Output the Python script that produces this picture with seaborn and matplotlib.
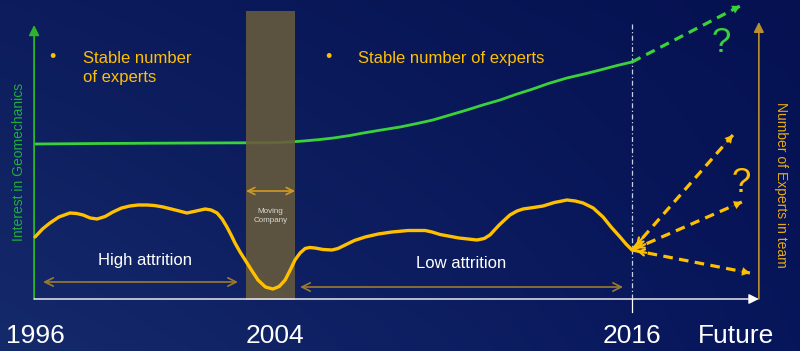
import numpy as np
import matplotlib
matplotlib.use("Agg")
import matplotlib.pyplot as plt
import seaborn as sns

plt.rcParams['font.family'] = ['Liberation Sans', 'DejaVu Sans']

# ---------------- data ----------------
# Interest in geomechanics (green curve)
interest_years = [1996.0, 1998.18, 2001.53, 2004.0, 2004.54, 2005.0, 2005.55, 2006.0,
                  2006.55, 2007.0, 2007.5, 2008.23, 2008.8, 2009.33, 2009.9, 2010.47,
                  2011.0, 2011.58, 2012.1, 2012.68, 2013.2, 2013.82, 2014.4, 2014.93,
                  2015.5, 2016.0]
interest = [155, 155.5, 156, 156.3, 157, 158, 159.5, 161, 163.5, 166, 168.5, 172, 175.5,
            179, 184, 189, 194, 199, 204.5, 210, 215.5, 221, 225, 229, 233.5, 237]

# Number of experts in team (yellow curve)
expert_years = [1996.00, 1996.25, 1996.50, 1996.80, 1997.17, 1997.40, 1997.61, 1997.85,
                1998.08, 1998.35, 1998.61, 1998.90, 1999.18, 1999.45, 1999.75, 2000.00,
                2000.29, 2000.70, 2001.09, 2001.40, 2001.70, 2001.90, 2002.10, 2002.27,
                2002.43, 2002.57, 2002.70, 2002.87, 2003.04, 2003.25, 2003.47, 2003.72,
                2003.97, 2004.18, 2004.38, 2004.55, 2004.71, 2004.88, 2005.05, 2005.20,
                2005.38, 2005.65, 2005.95, 2006.15, 2006.39, 2006.70, 2007.06, 2007.50,
                2007.96, 2008.50, 2009.07, 2009.30, 2009.57, 2010.20, 2010.81, 2011.05,
                2011.24, 2011.55, 2011.91, 2012.15, 2012.35, 2012.70, 2013.02, 2013.40,
                2013.82, 2014.10, 2014.36, 2014.70, 2015.03, 2015.30, 2015.60, 2015.80,
                2016.00]
experts = [62, 70, 76, 82, 86, 85.5, 84, 81,
           80, 82.5, 87, 91, 93, 94, 94, 93.5,
           92, 89, 86, 88, 90, 89, 86, 80,
           72, 64, 56, 47, 39, 29, 19, 12,
           10, 12.5, 19, 29, 39, 46, 50.5, 51.5,
           51, 49.5, 49, 50.5, 54, 58.5, 62, 65,
           67, 68.5, 68.5, 67, 64.5, 61, 59, 60.5,
           64, 74, 84, 88, 90, 91.5, 93, 96.5,
           99, 98, 96, 91, 82, 72, 62, 55,
           49]

# Future scenarios
interest_future_year = 2019.62
interest_future = 293
experts_future_years = [2019.38, 2019.68, 2019.95]
experts_future = [164, 97, 26]

# Periods
moving_period = [2003.07, 2004.71]
high_attrition = [1996.27, 2002.80]
low_attrition = [2004.88, 2015.70]

tick_years = [1996, 2004.04, 2016, 2019.49]
tick_labels = ["1996", "2004", "2016", "Future"]

# ---------------- style ----------------
GREEN = "#3ad23a"
GREEN_AX = "#2cb52c"
GREEN_TXT = "#20ad3c"
YELLOW = "#ffc000"
BROWN = "#9c7b2e"
RECT = "#675b3c"

fig = plt.figure(figsize=(8, 3.51), dpi=100)
ax = fig.add_axes([0, 0, 1, 1])
X0, X1 = 1994.8275, 2021.628
Y0, Y1 = -52, 299

# background gradient
h, w = 60, 120
yy = np.linspace(0, 1, h)[:, None, None]
xx = np.linspace(0, 1, w)[None, :, None]
tl = np.array([0x0c, 0x1c, 0x5c]) / 255
tr = np.array([0x05, 0x11, 0x51]) / 255
bl = np.array([0x15, 0x2a, 0x6b]) / 255
br = np.array([0x07, 0x15, 0x5a]) / 255
img = (1 - xx) * (1 - yy) * tl + xx * (1 - yy) * tr + (1 - xx) * yy * bl + xx * yy * br
ax.imshow(img, extent=(X0, X1, Y0, Y1), aspect='auto', origin='upper',
          zorder=0, interpolation='bilinear')

# green curve (under the shaded period)
sns.lineplot(x=interest_years, y=interest, ax=ax, color=GREEN, lw=2.0,
             estimator=None, zorder=2, solid_joinstyle='round', solid_capstyle='round')

# shaded "moving company" period
ax.fill_between(moving_period, -1, 288, color=RECT, alpha=0.88, lw=0, zorder=3)

# yellow curve
sns.lineplot(x=expert_years, y=experts, ax=ax, color=YELLOW, lw=2.4,
             estimator=None, zorder=5, solid_joinstyle='round', solid_capstyle='round')

# axes arrows
x_axis = 1995.97
x_right = 2020.25
ax.annotate('', xy=(x_axis, 274), xytext=(x_axis, 0),
            arrowprops=dict(arrowstyle='-|>,head_length=0.6,head_width=0.3',
                            color=GREEN_AX, lw=1.3, shrinkA=0, shrinkB=0), zorder=4)
ax.annotate('', xy=(x_right, 0), xytext=(x_axis, 0),
            arrowprops=dict(arrowstyle='-|>,head_length=0.6,head_width=0.3',
                            color='white', lw=1.0, shrinkA=0, shrinkB=0), zorder=4)
ax.annotate('', xy=(x_right, 277), xytext=(x_right, 0),
            arrowprops=dict(arrowstyle='-|>,head_length=0.6,head_width=0.3',
                            color='#b8902c', lw=1.2, shrinkA=0, shrinkB=0), zorder=4)

# 2016 marker
ax.plot([2016, 2016], [0, 276], color='#c8d0e8', lw=0.9,
        linestyle=(0, (4, 2, 1, 2)), zorder=4)
ax.plot([2016, 2016], [-13, 0], color='white', lw=0.9, zorder=4)

# future projections
def dashed_arrow(x0, y0, x1, y1, color, back_head=False):
    ax.plot([x0, x1], [y0, y1], color=color, lw=2.3, linestyle=(0, (3.0, 2.0)),
            zorder=6)
    ax.annotate('', xy=(x1, y1), xytext=(x0 + 0.9 * (x1 - x0), y0 + 0.9 * (y1 - y0)),
                arrowprops=dict(arrowstyle='-|>,head_length=0.55,head_width=0.3',
                                color=color, lw=0.1, shrinkA=0, shrinkB=0), zorder=6)
    if back_head:
        ax.annotate('', xy=(x0 + 0.04 * (x1 - x0), y0 + 0.04 * (y1 - y0)),
                    xytext=(x0 + 0.12 * (x1 - x0), y0 + 0.12 * (y1 - y0)),
                    arrowprops=dict(arrowstyle='->,head_length=0.4,head_width=0.22',
                                    color=color, lw=1.6, shrinkA=0, shrinkB=0), zorder=6)

dashed_arrow(interest_years[-1], interest[-1], interest_future_year, interest_future, GREEN)
for fx, fy in zip(experts_future_years, experts_future):
    dashed_arrow(expert_years[-1], experts[-1], fx, fy, YELLOW, back_head=True)

ax.text(2018.98, 256, '?', color=GREEN, fontsize=25, ha='center', va='center', zorder=7)
ax.text(2019.65, 117, '?', color=YELLOW, fontsize=25, ha='center', va='center', zorder=7)

# period arrows
ax.annotate('', xy=(moving_period[1], 108), xytext=(moving_period[0], 108),
            arrowprops=dict(arrowstyle='<->,head_length=0.5,head_width=0.25',
                            color='#d09a22', lw=1.2, shrinkA=0, shrinkB=0), zorder=6)
ax.text(sum(moving_period) / 2, 83, 'Moving\nCompany', color='#d8d8d8', fontsize=5.8,
        ha='center', va='center', linespacing=1.35, zorder=7)

ax.annotate('', xy=(high_attrition[1], 17), xytext=(high_attrition[0], 17),
            arrowprops=dict(arrowstyle='<->,head_length=0.6,head_width=0.3',
                            color=BROWN, lw=1.2, shrinkA=0, shrinkB=0), zorder=6)
ax.annotate('', xy=(low_attrition[1], 12), xytext=(low_attrition[0], 12),
            arrowprops=dict(arrowstyle='<->,head_length=0.6,head_width=0.3',
                            color=BROWN, lw=1.2, shrinkA=0, shrinkB=0), zorder=6)
ax.text(1999.69, 38, 'High attrition', color='white', fontsize=12, ha='center',
        va='center', zorder=7)
ax.text(2010.27, 35, 'Low attrition', color='white', fontsize=12, ha='center',
        va='center', zorder=7)

# bullet notes
ax.text(1996.60, 242, '•', color=YELLOW, fontsize=13, ha='center', va='center', zorder=7)
ax.text(1997.61, 248, 'Stable number\nof experts', color=YELLOW, fontsize=12,
        ha='left', va='top', linespacing=1.32, zorder=7)
ax.text(2005.82, 242, '•', color=YELLOW, fontsize=13, ha='center', va='center', zorder=7)
ax.text(2006.82, 248, 'Stable number of experts', color=YELLOW, fontsize=12,
        ha='left', va='top', zorder=7)

# axis titles
ax.text(1995.45, 137, 'Interest in Geomechanics', color=GREEN_TXT, fontsize=10,
        rotation=90, ha='center', va='center', zorder=7)
ax.text(2020.99, 114, 'Number of Experts in team', color='#e8aa10', fontsize=10,
        rotation=-90, ha='center', va='center', zorder=7)

# time labels
for tx, tl_ in zip(tick_years, tick_labels):
    ax.text(tx, -44, tl_, color='white', fontsize=19, ha='center', va='baseline', zorder=7)

ax.set_xlim(X0, X1)
ax.set_ylim(Y0, Y1)
ax.axis('off')
fig.savefig('out.png', dpi=100)
